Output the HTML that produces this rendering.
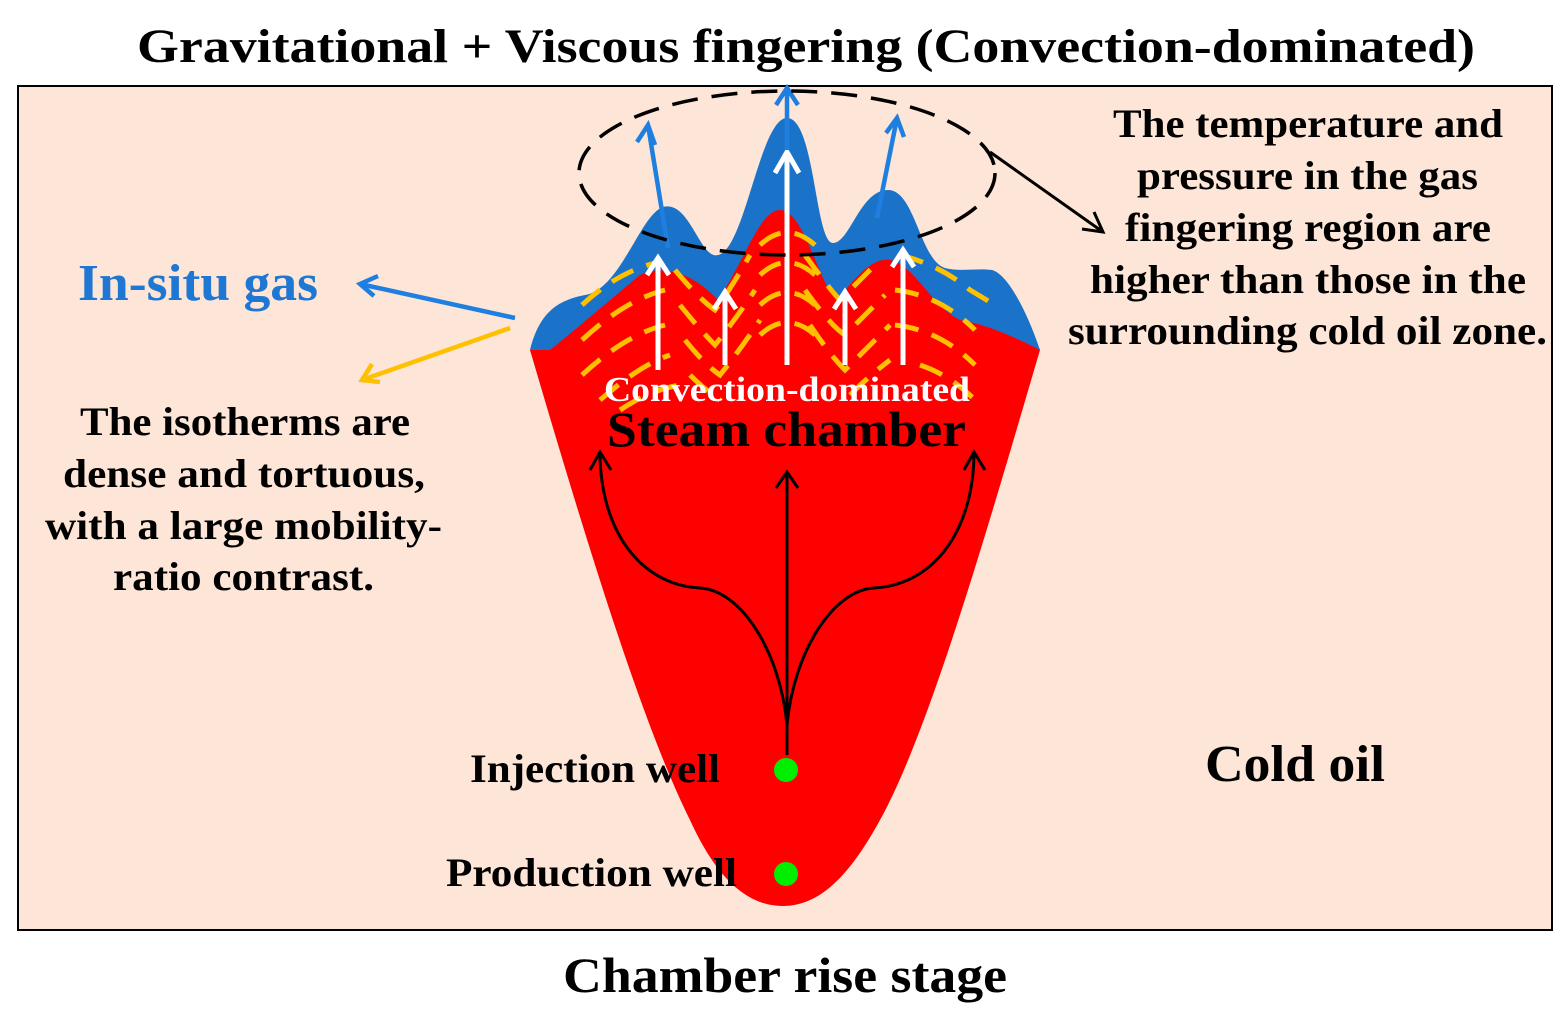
<!DOCTYPE html>
<html><head><meta charset="utf-8"><style>
html,body{margin:0;padding:0;background:#fff;}
svg{display:block}
text{font-family:"Liberation Serif",serif;font-weight:bold;}
</style></head><body>
<svg width="1568" height="1021" viewBox="0 0 1568 1021" xmlns="http://www.w3.org/2000/svg">
<text x="137" y="62" font-size="48" textLength="1338" lengthAdjust="spacingAndGlyphs">Gravitational + Viscous fingering (Convection-dominated)</text>
<rect x="18" y="86" width="1534" height="844" fill="#fde5d7" stroke="#000" stroke-width="2"/>
<path d="M530,350 C540,310 560,300 585,295 C620,290 640,215 663,207 C690,200 700,260 718,255 C745,250 760,118 787,118 C815,118 815,243 833,243 C850,243 860,190 888,190 C915,190 920,260 945,268 C960,272 975,268 992,270 C1010,275 1030,320 1040,350 Z" fill="#1a73c8"/>
<path d="M530,350 L550,350 C575,330 610,300 640,275 C660,265 690,270 718,300 C745,260 760,210 780,210 C805,210 820,290 838,300 C860,270 875,258 890,260 C915,265 930,305 960,320 C990,325 1020,340 1040,350 C990,520 930,730 880,820 C850,875 820,906 783,906 C745,906 715,875 690,820 C640,720 580,520 530,350 Z" fill="#ff0000"/>
<g fill="none" stroke="#ffc000" stroke-width="5" stroke-dasharray="24 14">
<path d="M582,305 Q620,270 660,262"/>
<path d="M582,340 Q625,300 665,290"/>
<path d="M582,375 Q625,335 665,325"/>
<path d="M600,400 Q640,365 670,355"/>
<path d="M620,410 Q650,390 680,385"/>
<path d="M675,270 Q700,300 715,310 Q730,290 750,255"/>
<path d="M680,305 Q700,330 715,345 Q735,320 755,290"/>
<path d="M685,340 Q705,365 720,375 Q740,350 760,320"/>
<path d="M690,375 Q705,390 720,400"/>
<path d="M760,245 Q787,220 815,245"/>
<path d="M760,275 Q787,250 815,275"/>
<path d="M760,305 Q787,280 815,305"/>
<path d="M760,335 Q787,310 815,335"/>
<path d="M805,255 Q830,290 840,300 Q860,280 880,260"/>
<path d="M805,290 Q830,325 845,335 Q865,315 885,295"/>
<path d="M810,325 Q830,355 845,370 Q870,345 890,325"/>
<path d="M850,395 Q870,375 890,360"/>
<path d="M900,255 Q940,265 970,290 L995,305"/>
<path d="M895,290 Q940,295 975,330"/>
<path d="M895,325 Q940,330 975,365"/>
<path d="M920,365 Q950,375 975,400"/>
</g>
<g stroke="#fff" stroke-width="5" fill="none">
<path d="M658,370 V258 M647,275 L658,258 L669,275"/>
<path d="M725,365 V292 M714,309 L725,292 L736,309"/>
<path d="M787,365 V152 M775,173 L787,152 L799,173"/>
<path d="M845,365 V292 M834,309 L845,292 L856,309"/>
<path d="M903,365 V250 M892,267 L903,250 L914,267"/>
</g>
<g stroke="#1f7fe0" stroke-width="4.5" fill="none">
<path d="M668,248 L648,125 M637,142 L648,125 L655,145"/>
<path d="M787,150 V88 M776,105 L787,88 L798,105"/>
<path d="M877,218 L897,118 M886,133 L897,118 L904,137"/>
<path d="M515,318 L360,284 M378,276 L360,284 L374,296"/>
</g>
<path d="M510,328 L362,380 M372,364 L362,380 L380,382" stroke="#ffc000" stroke-width="4.5" fill="none"/>
<ellipse cx="787" cy="173" rx="208" ry="82" fill="none" stroke="#000" stroke-width="3.5" stroke-dasharray="26 14"/>
<path d="M990,152 L1103,232 M1082,229 L1103,232 L1094,212" stroke="#000" stroke-width="3" fill="none"/>
<g stroke="#000" stroke-width="3" fill="none">
<path d="M787,755 V472 M776,488 L787,472 L798,488"/>
<path d="M787,725 C780,650 740,590 700,588 C640,585 600,530 600,452 M590,470 L600,452 L611,470"/>
<path d="M787,725 C794,650 834,590 874,588 C934,585 974,530 974,452 M964,470 L974,452 L985,470"/>
</g>
<circle cx="786" cy="770" r="12" fill="#00ee00"/>
<circle cx="786" cy="874" r="12" fill="#00ee00"/>
<text x="604" y="401" font-size="35" fill="#fff" textLength="366" lengthAdjust="spacingAndGlyphs">Convection-dominated</text>
<text x="607" y="446" font-size="50" textLength="359" lengthAdjust="spacingAndGlyphs">Steam chamber</text>
<text x="78" y="300" font-size="52" fill="#1f77d4" textLength="240" lengthAdjust="spacingAndGlyphs">In-situ gas</text>
<g font-size="40">
<text x="1113" y="137" textLength="390" lengthAdjust="spacingAndGlyphs">The temperature and</text>
<text x="1137" y="189" textLength="341" lengthAdjust="spacingAndGlyphs">pressure in the gas</text>
<text x="1125" y="241" textLength="366" lengthAdjust="spacingAndGlyphs">fingering region are</text>
<text x="1090" y="293" textLength="436" lengthAdjust="spacingAndGlyphs">higher than those in the</text>
<text x="1068" y="344" textLength="479" lengthAdjust="spacingAndGlyphs">surrounding cold oil zone.</text>
<text x="80" y="435" textLength="330" lengthAdjust="spacingAndGlyphs">The isotherms are</text>
<text x="63" y="487" textLength="362" lengthAdjust="spacingAndGlyphs">dense and tortuous,</text>
<text x="45" y="539" textLength="397" lengthAdjust="spacingAndGlyphs">with a large mobility-</text>
<text x="113" y="590" textLength="261" lengthAdjust="spacingAndGlyphs">ratio contrast.</text>
<text x="470" y="782" textLength="250" lengthAdjust="spacingAndGlyphs">Injection well</text>
<text x="446" y="886" textLength="291" lengthAdjust="spacingAndGlyphs">Production well</text>
</g>
<text x="1205" y="781" font-size="52" textLength="180" lengthAdjust="spacingAndGlyphs">Cold oil</text>
<text x="563" y="992" font-size="50" textLength="444" lengthAdjust="spacingAndGlyphs">Chamber rise stage</text>
</svg>
</body></html>
